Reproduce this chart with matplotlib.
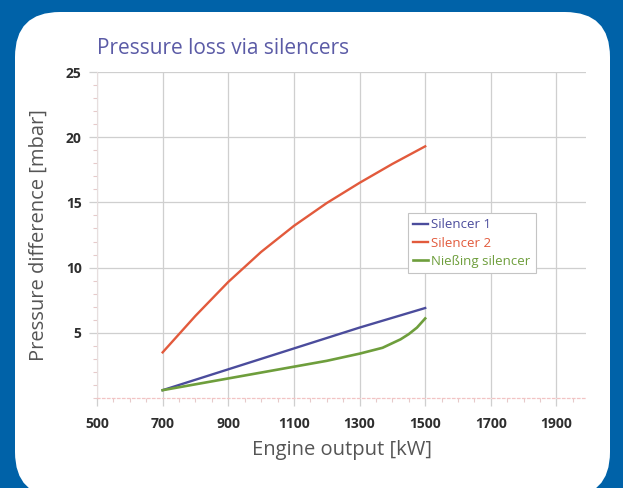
import matplotlib
matplotlib.use("Agg")
import matplotlib.pyplot as plt
from matplotlib.patches import FancyBboxPatch
from matplotlib.ticker import MultipleLocator

# values
power_main = [700, 800, 900, 1000, 1100, 1200, 1300, 1400, 1500]
silencer_2 = [3.5, 6.3, 8.9, 11.2, 13.2, 14.95, 16.5, 17.95, 19.3]

power_s1 = [700, 900, 1100, 1300, 1500]
silencer_1 = [0.6, 2.2, 3.8, 5.4, 6.9]

power_n = [700, 800, 900, 1000, 1100, 1200, 1300, 1370, 1425, 1450, 1475, 1500]
niessing = [0.6, 1.05, 1.5, 1.95, 2.4, 2.85, 3.4, 3.85, 4.5, 4.9, 5.4, 6.1]

x_ticks = [500, 700, 900, 1100, 1300, 1500, 1700, 1900]
y_ticks = [5, 10, 15, 20, 25]

BLUE = "#4b4c9c"
RED = "#e25a3c"
GREEN = "#6e9e3c"
BG = "#0062a8"
GRID = "#cfcfcf"

plt.rcParams["font.family"] = ["Open Sans", "DejaVu Sans"]

fig = plt.figure(figsize=(6.23, 4.88), dpi=100, facecolor=BG)

# white rounded panel, bottom edge runs past the image
panel = FancyBboxPatch(
    (0.15, -0.09), 5.95, 4.85,
    boxstyle="round,pad=0,rounding_size=0.45",
    transform=fig.dpi_scale_trans,
    facecolor="white", edgecolor="none", zorder=-10,
)
fig.patches.append(panel)

ax = fig.add_axes([97 / 623, 90 / 488, 489 / 623, 326 / 488])
ax.set_facecolor("none")

ax.plot(power_main, silencer_2, color=RED, lw=1.7, label="Silencer 2", zorder=3)
ax.plot(power_s1, silencer_1, color=BLUE, lw=1.7, label="Silencer 1", zorder=3)
ax.plot(power_n, niessing, color=GREEN, lw=1.9, label="Nießing silencer", zorder=3)

ax.set_xlim(500, 1990)
ax.set_ylim(0, 25)
ax.set_xticks(x_ticks)
ax.set_yticks(y_ticks)
ax.xaxis.set_minor_locator(MultipleLocator(50))
ax.yaxis.set_minor_locator(MultipleLocator(1))

ax.grid(True, which="major", color=GRID, lw=0.9)
ax.set_axisbelow(True)

for side in ["top", "right"]:
    ax.spines[side].set_visible(False)
ax.spines["left"].set_color("#e6dede")
ax.spines["left"].set_linewidth(0.8)
ax.spines["bottom"].set_color("#f2c4c4")
ax.spines["bottom"].set_linestyle((0, (2, 2)))
ax.spines["bottom"].set_linewidth(0.9)

ax.tick_params(axis="both", which="major", length=6, color=GRID, width=0.9,
               labelsize=10, labelcolor="#2e2e2e", pad=8)
ax.tick_params(axis="y", which="major", pad=5)
ax.tick_params(axis="both", which="minor", length=3, color="#e6caca", width=0.8)
for lab in ax.get_xticklabels() + ax.get_yticklabels():
    lab.set_fontweight("bold")

ax.set_xlabel("Engine output [kW]", fontsize=14.5, color="#555555", labelpad=6)
ax.set_ylabel("Pressure difference [mbar]", fontsize=14.5, color="#555555", labelpad=12)

fig.text(97 / 623, 1 - 48 / 488, "Pressure loss via silencers", fontsize=15,
         color="#5b5ba6", ha="left", va="center")

handles, labels = ax.get_legend_handles_labels()
order = [1, 0, 2]
leg = ax.legend(
    [handles[i] for i in order], [labels[i] for i in order],
    loc="upper left", bbox_to_anchor=(0.636, 0.567), borderaxespad=0,
    fancybox=False, edgecolor="#c4c4c4", framealpha=1, fontsize=9.5,
    handlelength=1.1, handletextpad=0.25, borderpad=0.4, labelspacing=0.4,
    labelcolor="linecolor",
)
leg.get_frame().set_linewidth(0.8)

fig.savefig("out.png", dpi=100, facecolor=fig.get_facecolor())
